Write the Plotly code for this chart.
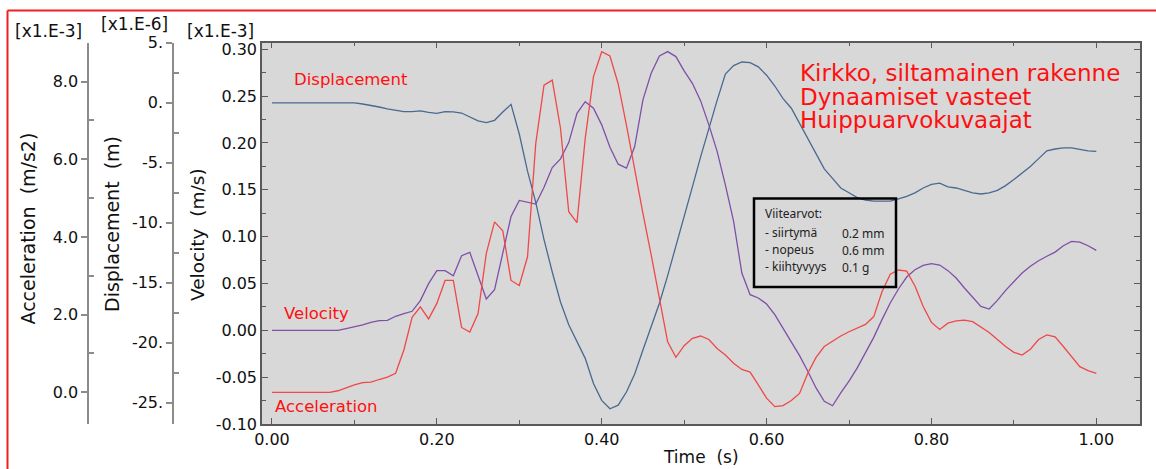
import plotly.graph_objects as go

W, H = 1156, 469

# ---------------- data ----------------
time_s = [0.00, 0.01, 0.02, 0.03, 0.04, 0.05, 0.06, 0.07, 0.08, 0.09,
          0.10, 0.11, 0.12, 0.13, 0.14, 0.15, 0.16, 0.17, 0.18, 0.19,
          0.20, 0.21, 0.22, 0.23, 0.24, 0.25, 0.26, 0.27, 0.28, 0.29,
          0.30, 0.31, 0.32, 0.33, 0.34, 0.35, 0.36, 0.37, 0.38, 0.39,
          0.40, 0.41, 0.42, 0.43, 0.44, 0.45, 0.46, 0.47, 0.48, 0.49,
          0.50, 0.51, 0.52, 0.53, 0.54, 0.55, 0.56, 0.57, 0.58, 0.59,
          0.60, 0.61, 0.62, 0.63, 0.64, 0.65, 0.66, 0.67, 0.68, 0.69,
          0.70, 0.71, 0.72, 0.73, 0.74, 0.75, 0.76, 0.77, 0.78, 0.79,
          0.80, 0.81, 0.82, 0.83, 0.84, 0.85, 0.86, 0.87, 0.88, 0.89,
          0.90, 0.91, 0.92, 0.93, 0.94, 0.95, 0.96, 0.97, 0.98, 0.99,
          1.00]

# Displacement, in units of 1e-6 m
displacement = [0, 0, 0, 0, 0, 0, 0, 0, 0, 0,
                -0.01, -0.10, -0.20, -0.35, -0.50, -0.65, -0.74, -0.74, -0.68, -0.79,
                -0.88, -0.74, -0.76, -0.85, -1.18, -1.51, -1.65, -1.46, -0.76, -0.13,
                -2.6, -5.7, -8.3, -11.4, -14.1, -16.6, -18.5, -19.9, -21.3, -23.4,
                -24.8, -25.5, -25.2, -24.1, -22.6, -20.6, -18.7, -16.7, -14.4, -12.0,
                -9.5, -7.0, -4.5, -2.1, 0.2, 2.4, 3.1, 3.4, 3.35, 3.0,
                2.3, 1.4, 0.35, -0.45, -1.74, -3.0, -4.3, -5.5, -6.3, -7.1,
                -7.5, -7.9, -8.1, -8.2, -8.2, -8.2, -8.0, -7.8, -7.5, -7.1,
                -6.8, -6.7, -7.0, -7.1, -7.3, -7.5, -7.6, -7.5, -7.3, -6.9,
                -6.4, -5.85, -5.3, -4.65, -4.0, -3.85, -3.75, -3.75, -3.9, -4.0,
                -4.05]

# Velocity, in units of 1e-3 m/s
velocity = [0, 0, 0, 0, 0, 0, 0, 0, 0, 0.0018,
            0.0036, 0.0057, 0.0085, 0.0103, 0.0107, 0.0150, 0.0178, 0.0203, 0.0317, 0.0498,
            0.0637, 0.0637, 0.0583, 0.0797, 0.0832, 0.0594, 0.0334, 0.0434, 0.0825, 0.1215,
            0.1386, 0.1370, 0.1347, 0.1528, 0.1738, 0.1830, 0.2004, 0.2317, 0.2441, 0.2370,
            0.2193, 0.1955, 0.1773, 0.1731, 0.1962, 0.2460, 0.2744, 0.2929, 0.2975, 0.2922,
            0.2769, 0.2637, 0.2449, 0.2193, 0.1910, 0.1553, 0.1162, 0.0611, 0.0380, 0.0345,
            0.0281, 0.0167, 0.0025, -0.0120, -0.0270, -0.0437, -0.0615, -0.0757, -0.0805, -0.0668,
            -0.0543, -0.0401, -0.0234, -0.0075, 0.0114, 0.0292, 0.0441, 0.0569, 0.0647, 0.0693,
            0.0711, 0.0697, 0.0637, 0.0558, 0.0452, 0.0356, 0.0256, 0.0227, 0.0320, 0.0427,
            0.0519, 0.0612, 0.0683, 0.0743, 0.0790, 0.0835, 0.0903, 0.0949, 0.0942, 0.0903,
            0.0853]

# Acceleration, in units of 1e-3 m/s2
acceleration = [0, 0, 0, 0, 0, 0, 0, 0, 0.04, 0.12,
                0.19, 0.25, 0.26, 0.33, 0.39, 0.49, 1.09, 1.93, 2.20, 1.89,
                2.29, 2.88, 2.88, 1.67, 1.55, 2.03, 3.58, 4.39, 4.16, 2.88,
                2.75, 3.49, 6.41, 7.91, 8.04, 6.80, 4.65, 4.37, 6.54, 8.13,
                8.77, 8.66, 7.94, 6.88, 5.73, 4.61, 3.54, 2.38, 1.30, 0.90,
                1.20, 1.39, 1.45, 1.36, 1.13, 0.96, 0.75, 0.59, 0.52, 0.19,
                -0.15, -0.37, -0.34, -0.21, -0.03, 0.49, 0.90, 1.18, 1.32, 1.45,
                1.56, 1.65, 1.75, 1.95, 2.59, 3.04, 3.15, 3.12, 2.74, 2.21,
                1.80, 1.62, 1.78, 1.84, 1.86, 1.82, 1.69, 1.54, 1.36, 1.18,
                1.03, 0.96, 1.11, 1.36, 1.48, 1.43, 1.18, 0.92, 0.66, 0.56,
                0.49]

time_tickvals = [0.0, 0.2, 0.4, 0.6, 0.8, 1.0]
time_ticktext = ["0.00", "0.20", "0.40", "0.60", "0.80", "1.00"]
time_minor = [0.1, 0.3, 0.5, 0.7, 0.9]

vel_tickvals = [-0.10, -0.05, 0.00, 0.05, 0.10, 0.15, 0.20, 0.25, 0.30]
vel_ticktext = ["-0.10", "-0.05", "0.00", "0.05", "0.10", "0.15", "0.20", "0.25", "0.30"]
vel_minor = [-0.075, -0.025, 0.025, 0.075, 0.125, 0.175, 0.225, 0.275]

disp_tickvals = [-25, -20, -15, -10, -5, 0, 5]
disp_ticktext = ["-25.", "-20.", "-15.", "-10.", "-5.", "0.", "5."]
disp_minor = [-22.5, -17.5, -12.5, -7.5, -2.5, 2.5]

acc_tickvals = [0, 2, 4, 6, 8]
acc_ticktext = ["0.0", "2.0", "4.0", "6.0", "8.0"]
acc_minor = [1, 3, 5, 7]

title_lines = ["Kirkko, siltamainen rakenne", "Dynaamiset vasteet", "Huippuarvokuvaajat"]
ref_labels = ["Viitearvot:", "- siirtymä", "- nopeus", "- kiihtyvyys"]
ref_values = ["0.2 mm", "0.6 mm", "0.1 g"]

# ---------------- styling ----------------
FONT = "DejaVu Sans"
C_DISP = "#4a6990"
C_VEL = "#7e50a8"
C_ACC = "#f04848"
RED = "#ff1010"
FRAME = "#ee2020"
BORDER = "#5a5a5a"
AXGRAY = "#8c8c8c"


def fx(px):
    return px / W


def fy(py):
    return 1 - py / H


PLOT_L, PLOT_R, PLOT_T, PLOT_B = 262, 1140, 42.7, 424
ydom = [fy(PLOT_B), fy(PLOT_T)]

fig = go.Figure()
fig.add_trace(go.Scatter(x=time_s, y=displacement, mode="lines", yaxis="y2",
                         line=dict(color=C_DISP, width=1.3), showlegend=False))
fig.add_trace(go.Scatter(x=time_s, y=velocity, mode="lines", yaxis="y",
                         line=dict(color=C_VEL, width=1.3), showlegend=False))
fig.add_trace(go.Scatter(x=time_s, y=acceleration, mode="lines", yaxis="y3",
                         line=dict(color=C_ACC, width=1.3), showlegend=False))

tickfont = dict(family=FONT, size=16, color="#111111")

fig.update_layout(
    template="none",
    width=W, height=H, autosize=False,
    margin=dict(l=0, r=0, t=0, b=0, pad=0, autoexpand=False),
    showlegend=False,
    paper_bgcolor="white",
    plot_bgcolor="#d8d8d8",
    font=dict(family=FONT, color="#111111"),
    xaxis=dict(domain=[fx(PLOT_L), fx(PLOT_R)], range=[-0.0121, 1.053], anchor="y",
               automargin=False,
               showline=True, linecolor=BORDER, linewidth=1.5, mirror="ticks",
               ticks="inside", ticklen=6, tickwidth=1.2, tickcolor=BORDER,
               tickmode="array", tickvals=time_tickvals, ticktext=time_ticktext,
               minor=dict(tickmode="array", tickvals=time_minor, ticks="inside",
                          ticklen=4, tickwidth=1.2, tickcolor=BORDER, showgrid=False),
               tickfont=tickfont, showgrid=False, zeroline=False),
    yaxis=dict(domain=ydom, range=[-0.1, 0.307], anchor="x", automargin=False,
               showline=True, linecolor=BORDER, linewidth=1.5, mirror="ticks",
               ticks="inside", ticklen=6, tickwidth=1.2, tickcolor=BORDER,
               tickmode="array", tickvals=vel_tickvals, ticktext=vel_ticktext,
               minor=dict(tickmode="array", tickvals=vel_minor, ticks="inside",
                          ticklen=4, tickwidth=1.2, tickcolor=BORDER, showgrid=False),
               tickfont=tickfont, showgrid=False, zeroline=False),
    yaxis2=dict(overlaying="y", anchor="free", position=fx(173.3), side="left",
                domain=ydom, range=[-26.77, 5.01], automargin=False,
                showline=True, linecolor=AXGRAY, linewidth=2,
                ticks="outside", ticklen=6, tickwidth=1.5, tickcolor=AXGRAY,
                tickmode="array", tickvals=disp_tickvals, ticktext=disp_ticktext,
                minor=dict(tickmode="array", tickvals=disp_minor, ticks="inside",
                           ticklen=5, tickwidth=1.5, tickcolor=AXGRAY, showgrid=False),
                tickfont=tickfont, showgrid=False, zeroline=False),
    yaxis3=dict(overlaying="y", anchor="free", position=fx(88.3), side="left",
                domain=ydom, range=[-0.816, 9.003], automargin=False,
                showline=True, linecolor=AXGRAY, linewidth=2,
                ticks="outside", ticklen=6, tickwidth=1.5, tickcolor=AXGRAY,
                tickmode="array", tickvals=acc_tickvals, ticktext=acc_ticktext,
                minor=dict(tickmode="array", tickvals=acc_minor, ticks="inside",
                           ticklen=5, tickwidth=1.5, tickcolor=AXGRAY, showgrid=False),
                tickfont=tickfont, showgrid=False, zeroline=False),
)

ann = []


def text(s, px, py, size=16, color="#111111", xanchor="center", yanchor="middle",
         angle=0, family=FONT):
    ann.append(dict(text=s, x=fx(px), y=fy(py), xref="paper", yref="paper",
                    xanchor=xanchor, yanchor=yanchor, showarrow=False,
                    textangle=angle, font=dict(family=family, size=size, color=color)))


# multipliers
text("[x1.E-3]", 48.5, 31, size=17)
text("[x1.E-6]", 134, 24, size=17)
text("[x1.E-3]", 221, 31, size=17)

# axis titles
NB = "\u00a0\u00a0"
text("Acceleration" + NB + "(m/s2)", 27, 228.5, size=19, angle=-90)
text("Displacement" + NB + "(m)", 112, 224, size=19, angle=-90)
text("Velocity" + NB + "(m/s)", 197, 235, size=18.5, angle=-90)
text("Time" + NB + "(s)", 701, 457, size=17)

# curve labels
text("Displacement", 292, 79, size=16.5, color=RED, xanchor="left")
text("Velocity", 281.5, 313, size=16.5, color=RED, xanchor="left")
text("Acceleration", 272.5, 406, size=16.5, color=RED, xanchor="left")

# title block
for line, yy in zip(title_lines, [73, 97.5, 120]):
    text(line, 797.5, yy, size=23, color=RED, xanchor="left")

# reference value box
for lab, yy in zip(ref_labels, [214, 232.5, 249.5, 266]):
    text(lab, 763, yy, size=12, color="#222222", xanchor="left", family="Noto Sans")
for val, yy in zip(ref_values, [233, 250, 267]):
    text(val, 840, yy, size=12, color="#222222", xanchor="left", family="Noto Sans")

fig.update_layout(annotations=ann)

shapes = [
    dict(type="rect", xref="paper", yref="paper", x0=fx(754), x1=fx(896),
         y0=fy(287), y1=fy(198.5), line=dict(color="black", width=2.5)),
    dict(type="line", xref="paper", yref="paper", x0=fx(7.5), x1=1,
         y0=fy(10.5), y1=fy(10.5), line=dict(color=FRAME, width=2)),
    dict(type="line", xref="paper", yref="paper", x0=fx(7.5), x1=fx(7.5),
         y0=fy(10.5), y1=0, line=dict(color=FRAME, width=2)),
]
fig.update_layout(shapes=shapes)

fig.write_html("out.html",
               config={"displayModeBar": False},
               post_script="document.body.style.margin='0';document.body.style.padding='0';"
                           "document.body.style.overflow='hidden';")
